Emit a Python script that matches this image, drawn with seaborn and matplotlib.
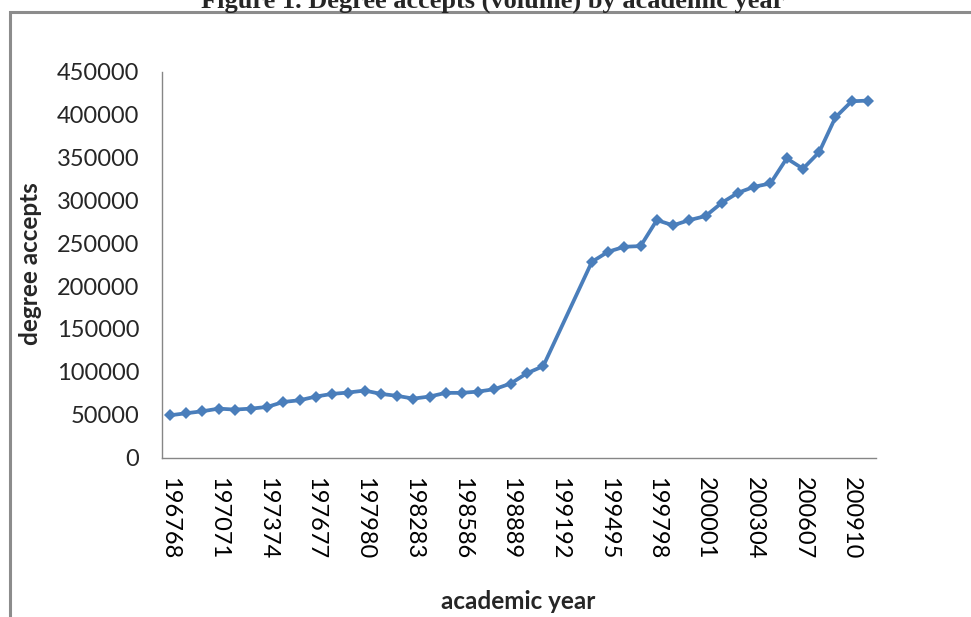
import matplotlib
matplotlib.use("Agg")
import matplotlib.pyplot as plt
import matplotlib.patches as mpatches
import seaborn as sns
import pandas as pd
import numpy as np

# academic years (categories on the x axis)
YEARS = ["196768", "196869", "196970", "197071", "197172", "197273", "197374", "197475",
         "197576", "197677", "197778", "197879", "197980", "198081", "198182", "198283",
         "198384", "198485", "198586", "198687", "198788", "198889", "198990", "199091",
         "199192", "199293", "199394", "199495", "199596", "199697", "199798", "199899",
         "199900", "200001", "200102", "200203", "200304", "200405", "200506", "200607",
         "200708", "200809", "200910", "201011"]

# degree accepts per year (None = no value, line is joined across)
ACCEPTS = [49200, 51600, 53900, 57000, 55900, 57000, 59000, 64800,
           66800, 71100, 74200, 75800, 78100, 74200, 71900, 68700,
           71100, 75400, 75400, 76900, 79700, 86300, 98300, 106500,
           None, None, 228300, 240000, 245800, 246600, 276900, 270800,
           276900, 281600, 297100, 308800, 315800, 319700, 348900, 336800,
           356200, 396700, 415500, 416300]

TITLE = "Figure 1. Degree accepts (volume) by academic year"
XLABEL = "academic year"
YLABEL = "degree accepts"

LINE_COLOR = "#4a7ebb"
AXIS_COLOR = "#868686"


def main():
    sns.set_style("white")
    plt.rcParams['font.family'] = ['Lato', 'DejaVu Sans']

    df = pd.DataFrame({"pos": np.arange(len(YEARS)), "year": YEARS, "accepts": ACCEPTS})
    df = df.dropna()

    fig = plt.figure(figsize=(9.71, 6.17), dpi=100)
    ax = fig.add_axes([161.7 / 971, 1 - 457.5 / 617, (876 - 161.7) / 971, (457.5 - 71.7) / 617])

    sns.lineplot(data=df, x="pos", y="accepts", ax=ax, color=LINE_COLOR, linewidth=2.7,
                 marker="D", markersize=6.5, markeredgewidth=0, markerfacecolor=LINE_COLOR)

    ax.set_xlim(-0.5, len(YEARS) - 0.5)
    ax.set_ylim(0, 450000)
    ax.set_yticks(np.arange(0, 450001, 50000))
    ax.set_yticklabels([str(v) for v in range(0, 450001, 50000)])

    # labels on every third year, tick marks between the categories
    ax.set_xticks(np.arange(0, len(YEARS), 3))
    ax.set_xticklabels(YEARS[::3], rotation=-90)
    ax.set_xticks(np.arange(-0.5, len(YEARS), 1), minor=True)
    ax.tick_params(axis="x", which="major", length=0, pad=14, labelsize=17, colors="black")
    ax.tick_params(axis="x", which="minor", length=5, width=1, color=AXIS_COLOR)
    ax.tick_params(axis="y", length=5, width=1, color=AXIS_COLOR, labelsize=17, pad=11)

    for side in ["top", "right"]:
        ax.spines[side].set_visible(False)
    for side in ["left", "bottom"]:
        ax.spines[side].set_color(AXIS_COLOR)
        ax.spines[side].set_linewidth(1)

    ax.set_xlabel(XLABEL, fontsize=17.5, fontweight="bold")
    ax.set_ylabel(YLABEL, fontsize=17.5, fontweight="bold")
    ax.xaxis.set_label_coords((518 - 161.7) / (876 - 161.7), -(590 - 457.5) / (457.5 - 71.7))
    ax.yaxis.set_label_coords(-(161.7 - 42) / (876 - 161.7), (457.5 - 264) / (457.5 - 71.7))

    # outer frame around the chart area (cut at bottom and right)
    frame = mpatches.Rectangle((9.5 / 971, -0.1), 1.0, 1.1 - 12.5 / 617, transform=fig.transFigure,
                               fill=False, edgecolor="#8c8c8c", linewidth=2.2)
    fig.patches.append(frame)

    fig.text(493 / 971, 1 - 8 / 617, TITLE, ha="center", va="baseline", fontsize=19,
             fontweight="bold", family=["Liberation Serif", "DejaVu Serif"])

    fig.savefig("out.png", dpi=100)


if __name__ == "__main__":
    main()
